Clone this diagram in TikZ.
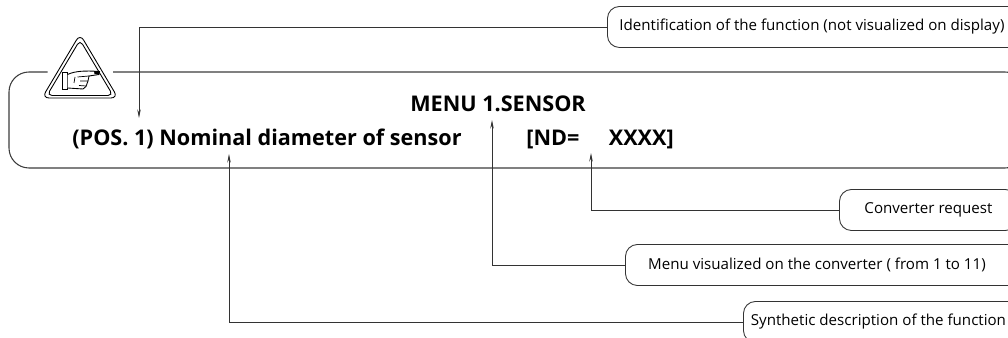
\documentclass[tikz,border=0pt]{standalone}
\usepackage{fontspec}
\usetikzlibrary{arrows.meta}
\setmainfont{Open Sans}
\tikzset{
    infobox/.style={draw=black!80, line width=0.5pt, rounded corners=0.24cm, minimum height=0.82cm, inner sep=0pt, font=\fontsize{8.6}{10}\selectfont},
    leader/.style={draw=black!80, line width=0.5pt, -{Stealth[length=0.17cm,width=0.07cm]}},
    headtext/.style={font=\fontsize{12.3}{14}\selectfont\bfseries, inner sep=0pt}
}
\begin{document}
\begin{tikzpicture}
            \useasboundingbox (0,0) rectangle (20.16,6.76);
            \definecolor{linecolor}{RGB}{60, 60, 60}

            % panel, open at the triangle
            \draw[draw=linecolor, line width=0.6pt, rounded corners=0.4cm] (0.95,5.32) -- (0.18,5.32) -- (0.18,3.4) -- (20.5,3.4) -- (20.5,5.32) -- (2.26,5.32);

            % triangle
            \draw[line width=0.5pt, rounded corners=0.14cm] (1.6,6.08) -- (2.36,4.8) -- (0.84,4.8) -- cycle;
            \draw[line width=0.5pt, rounded corners=0.1cm] (1.6,5.96) -- (2.26,4.85) -- (0.94,4.85) -- cycle;

            % hand
            \draw[line width=0.5pt, fill=white] (1.25,5.32) -- (1.35,5.32) -- (1.35,4.98) -- (1.25,4.98) -- cycle;
            \draw[line width=0.5pt, fill=white] (1.35,5.27) .. controls (1.5,5.34) and (1.7,5.35) .. (1.99,5.33) -- (1.98,5.27) -- (1.78,5.24) -- (1.76,5.14) -- (1.72,5.03) -- (1.66,4.98) -- (1.35,5.0);
            \fill (1.88,5.34) -- (2.0,5.33) -- (1.98,5.27) -- (1.89,5.28) -- cycle;
            \draw[line width=0.4pt] (1.55,5.22) -- (1.78,5.24) (1.6,5.14) -- (1.76,5.14) (1.58,5.05) -- (1.72,5.04) (1.5,5.22) -- (1.48,5.1);

            % texts of the panel
            \node[headtext, anchor=base] (menutitle) at (9.96,4.52) {MENU 1.SENSOR};
            \node[headtext, anchor=base west] (posline) at (1.44,3.84) {(POS. 1) Nominal diameter of sensor};
            \node[headtext, anchor=base west] (ndline) at (10.52,3.84) {[ND=};
            \node[headtext, anchor=base east] (xline) at (13.48,3.84) {XXXX]};

            % boxes
            \node[infobox, minimum width=8.4cm, anchor=west] (idbox) at (12.14,6.22) {\hspace{-0.22cm}\raisebox{0.05cm}{Identification of the function (not visualized on display)}};
            \node[infobox, minimum width=3.56cm, anchor=west] (convbox) at (16.78,2.56) {\raisebox{0.08cm}{Converter request}};
            \node[infobox, minimum width=8.1cm, anchor=west] (menubox) at (12.5,1.46) {\hspace{-0.44cm}Menu visualized on the converter ( from 1 to 11)};
            \node[infobox, minimum width=5.6cm, anchor=west] (descbox) at (14.86,0.32) {\hspace{-0.2cm}\raisebox{0.03cm}{Synthetic description of the function}};

            % tips of the leaders
            \coordinate (idtip) at (2.78,4.4);
            \coordinate (convtip) at (11.82,3.7);
            \coordinate (menutip) at (9.84,4.36);
            \coordinate (desctip) at (4.58,3.68);

            \draw[leader] (idbox.west) -| (idtip);
            \draw[leader] (convbox.west) -| (convtip);
            \draw[leader] (menubox.west) -| (menutip);
            \draw[leader] (descbox.west) -| (desctip);
        \end{tikzpicture}
\end{document}
